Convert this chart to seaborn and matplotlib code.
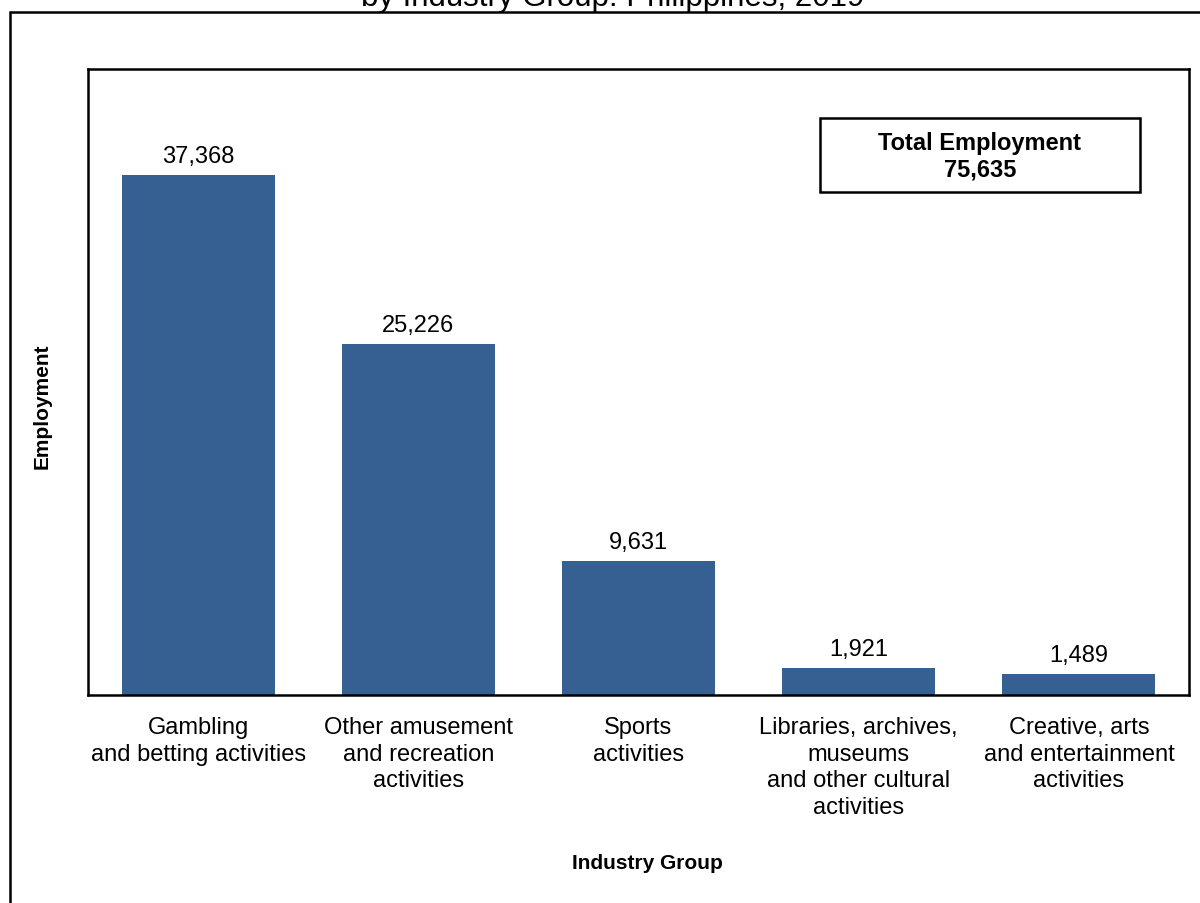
#!/usr/bin/env python3

import matplotlib.pyplot as plt
import pandas as pd
import seaborn as sns
from matplotlib.patches import Rectangle

groups = [
    "Gambling\nand betting activities",
    "Other amusement\nand recreation\nactivities",
    "Sports\nactivities",
    "Libraries, archives,\nmuseums\nand other cultural\nactivities",
    "Creative, arts\nand entertainment\nactivities",
]
employment = [37368, 25226, 9631, 1921, 1489]
total_employment = 75635

BAR_COLOR = "#376092"


def main() -> None:
    sns.set_theme(style="white")
    plt.rcParams["font.family"] = ["Liberation Sans", "DejaVu Sans"]
    plt.rcParams["text.color"] = "black"

    df = pd.DataFrame({"group": groups, "employment": employment})

    W, H = 1200, 904
    fig = plt.figure(figsize=(W / 100, H / 100), dpi=100)
    ax = fig.add_axes([88 / W, 1 - 696 / H, (1189 - 88) / W, (696 - 70) / H])

    sns.barplot(
        data=df, x="group", y="employment", color=BAR_COLOR,
        width=0.695, saturation=1, linewidth=0, ax=ax,
    )
    ax.set_xlim(-0.5, 4.5)
    ax.set_ylim(0, 45000)
    ax.set_yticks([])
    ax.set_xlabel("")
    ax.set_ylabel("")
    ax.tick_params(axis="x", length=0, pad=15, labelsize=17, colors="black")
    for lbl in ax.get_xticklabels():
        lbl.set_linespacing(1.28)

    for s in ax.spines.values():
        s.set_visible(True)
        s.set_color("black")
        s.set_linewidth(1.8)

    for p, v in zip(ax.patches, employment):
        ax.annotate(
            f"{v:,}",
            (p.get_x() + p.get_width() / 2, p.get_height()),
            xytext=(0, 6), textcoords="offset points",
            ha="center", va="bottom", fontsize=17, color="black",
        )

    # total box
    fig.text(
        980 / W, 1 - 157 / H, f"Total Employment\n{total_employment:,}",
        ha="center", va="center", fontsize=17, fontweight="bold",
        linespacing=1.17,
    )
    fig.patches.append(Rectangle(
        (820 / W, 1 - 193 / H), 320 / W, 74 / H, transform=fig.transFigure,
        fill=False, edgecolor="black", linewidth=1.8,
    ))

    fig.text(42 / W, 1 - 406 / H, "Employment", rotation=90, ha="center",
             va="center", fontsize=15, fontweight="bold")
    fig.text(647 / W, 1 - 864 / H, "Industry Group", ha="center",
             va="center", fontsize=15, fontweight="bold")

    # title cut off at top of the picture
    fig.text(613 / W, 1 - 6 / H,
             "Employment in Arts, Entertainment and Recreation\n"
             "by Industry Group: Philippines, 2019",
             ha="center", va="baseline", fontsize=22.5)

    # outer chart border, running past the right and bottom edges
    fig.patches.append(Rectangle(
        (9.5 / W, -0.1), 1.2, (1 - 12.5 / H) + 0.1, transform=fig.transFigure,
        fill=False, edgecolor="black", linewidth=1.8,
    ))

    fig.savefig("out.png", dpi=100)


if __name__ == "__main__":
    main()
